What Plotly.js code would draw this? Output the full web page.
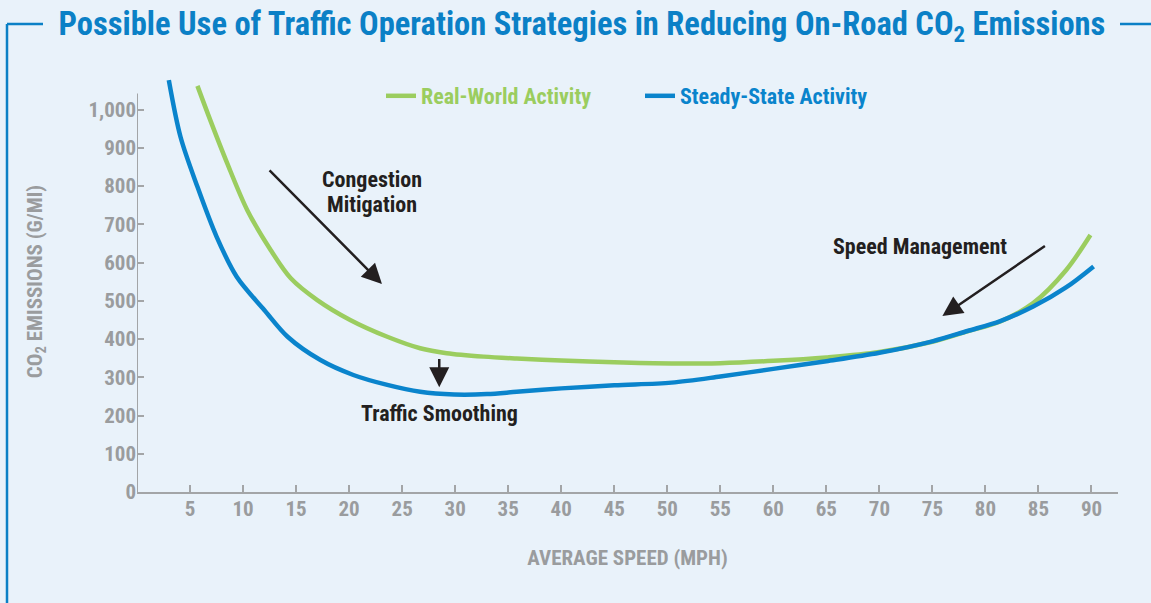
<!DOCTYPE html>
<html>
<head>
<meta charset="utf-8">
<script src="https://cdn.plot.ly/plotly-3.0.1.min.js"></script>
<style>
  html, body { margin: 0; padding: 0; background: #e9f2fa; }
  #chart { width: 1151px; height: 603px; }
</style>
</head>
<body>
<div id="chart"></div>
<script>
// ---- Data ----
const speedReal = [5.7, 6.9, 8.5, 10.4, 12.6, 14.5, 17, 20.1, 23.6, 26.7, 29.2, 32.7, 35.8, 40, 45, 50.4, 55, 60, 65, 70, 75, 78.3, 81.4, 84.5, 87.6, 89.9];
const realWorld = [1062, 973, 860, 737, 633, 559, 502, 450, 406, 376, 363, 354, 349, 344, 339, 336, 337, 343, 352, 366, 393, 420, 446, 494, 580, 672];

const speedSteady = [3, 4.1, 5.7, 7.5, 9.4, 12, 14.2, 17.3, 20.4, 23.6, 26.7, 29.9, 33, 35.8, 40, 45, 50.4, 55, 60, 65, 70, 75, 78.3, 81.4, 84.5, 87.6, 90.2];
const steadyState = [1077, 929, 798, 668, 563, 476, 406, 345, 306, 280, 262, 255, 256, 262, 271, 279, 286, 302, 322, 342, 364, 394, 421, 447, 485, 535, 590];

const seriesNames = ['Real-World Activity', 'Steady-State Activity'];
const xTickVals = [5, 10, 15, 20, 25, 30, 35, 40, 45, 50, 55, 60, 65, 70, 75, 80, 85, 90];
const yTickVals = [0, 100, 200, 300, 400, 500, 600, 700, 800, 900, 1000];
const yTickText = ['0', '100', '200', '300', '400', '500', '600', '700', '800', '900', '1,000'];

const chartTitle = 'Possible Use of Traffic Operation Strategies in Reducing On-Road CO<sub>2</sub> Emissions';
const xTitle = 'AVERAGE SPEED (MPH)';
const yTitle = 'CO<sub>2</sub> EMISSIONS (G/MI)';
const notes = ['Congestion', 'Mitigation', 'Traffic Smoothing', 'Speed Management'];

// ---- Style ----
const FONT = '"Liberation Sans Narrow", "Roboto Condensed", "DejaVu Sans Condensed", sans-serif';
const BG = '#e9f2fa';
const BLUE = '#0a84cc';
const GREEN = '#9bcd5f';
const TITLE_BLUE = '#0b80c6';
const GRAY = '#9a9c9e';
const AXIS_GRAY = '#a3a5a7';
const DARK = '#231f20';

const W = 1151, H = 603;
const M = {l: 137, r: 33, t: 71, b: 111};
const plotW = W - M.l - M.r, plotH = H - M.t - M.b;
const px2x = p => (p - M.l) / plotW;        // page pixel -> paper x
const px2y = p => (H - M.b - p) / plotH;    // page pixel -> paper y

const traces = [
  {
    x: speedReal, y: realWorld, type: 'scatter', mode: 'lines',
    name: '<span style="color:' + GREEN + '">' + seriesNames[0] + '</span>',
    line: {color: GREEN, width: 4.5, shape: 'spline', smoothing: 0.9},
    hoverinfo: 'skip'
  },
  {
    x: speedSteady, y: steadyState, type: 'scatter', mode: 'lines',
    name: '<span style="color:' + BLUE + '">' + seriesNames[1] + '</span>',
    line: {color: BLUE, width: 4.5, shape: 'spline', smoothing: 0.9},
    hoverinfo: 'skip'
  }
];

const frameLine = {color: TITLE_BLUE, width: 2.5};
const tickFont = {family: FONT, size: 21, color: GRAY, weight: 'bold'};
const noteFont = {family: FONT, size: 22, color: DARK, weight: 'bold'};
const arrowStyle = {text: '', showarrow: true, arrowhead: 2, arrowsize: 1.6, arrowwidth: 2.5,
                    arrowcolor: DARK, standoff: 0, axref: 'x', ayref: 'y', xref: 'x', yref: 'y'};

const layout = {
  width: W, height: H,
  margin: M,
  paper_bgcolor: BG, plot_bgcolor: BG,
  font: {family: FONT, color: GRAY, size: 22},
  showlegend: true,
  title: {
    text: chartTitle,
    font: {family: FONT, size: 32.5, color: TITLE_BLUE, weight: 'bold'},
    x: 582 / W, xanchor: 'center', xref: 'container',
    y: 1 - 24 / H, yanchor: 'middle', yref: 'container'
  },
  legend: {
    orientation: 'h',
    x: px2x(381), xanchor: 'left',
    y: px2y(96), yanchor: 'middle',
    bgcolor: 'rgba(0,0,0,0)',
    font: {family: FONT, size: 22, weight: 'bold'},
    entrywidth: 214, entrywidthmode: 'pixels',
    itemclick: false, itemdoubleclick: false
  },
  xaxis: {
    range: [0, 92.5],
    tickvals: xTickVals,
    ticks: 'inside', ticklen: 7, tickwidth: 2, tickcolor: AXIS_GRAY,
    showline: true, linecolor: AXIS_GRAY, linewidth: 2,
    showgrid: false, zeroline: false,
    tickfont: tickFont, ticklabelstandoff: -3,
    title: {text: xTitle, font: {family: FONT, size: 21, color: GRAY, weight: 'bold'}, standoff: 30}
  },
  yaxis: {
    range: [0, plotH / 0.3824],
    tickvals: yTickVals, ticktext: yTickText,
    ticks: 'inside', ticklen: 7, tickwidth: 2, tickcolor: AXIS_GRAY,
    showline: false, showgrid: false, zeroline: false,
    tickfont: tickFont,
    title: {text: yTitle, font: {family: FONT, size: 21, color: GRAY, weight: 'bold'}, standoff: 40}
  },
  shapes: [
    // y axis line (stops a little above 1,000)
    {type: 'line', xref: 'x', yref: 'y', x0: 0, x1: 0, y0: 0, y1: 1042,
     line: {color: AXIS_GRAY, width: 2}},
    // frame around the figure, broken by the title
    {type: 'line', xref: 'paper', yref: 'paper', x0: px2x(7), x1: px2x(7), y0: px2y(24), y1: px2y(610), line: frameLine},
    {type: 'line', xref: 'paper', yref: 'paper', x0: px2x(7), x1: px2x(43), y0: px2y(24), y1: px2y(24), line: frameLine},
    {type: 'line', xref: 'paper', yref: 'paper', x0: px2x(1120), x1: px2x(1160), y0: px2y(24), y1: px2y(24), line: frameLine}
  ],
  annotations: [
    // arrows
    Object.assign({x: 23.1, y: 544, ax: 12.36, ay: 845}, arrowStyle),
    Object.assign({x: 28.5, y: 274, ax: 28.5, ay: 352}, arrowStyle),
    Object.assign({x: 75.94, y: 460, ax: 85.75, ay: 646}, arrowStyle),
    // labels
    {x: 22.17, y: 818, xref: 'x', yref: 'y', text: notes[0], showarrow: false, font: noteFont},
    {x: 22.17, y: 753, xref: 'x', yref: 'y', text: notes[1], showarrow: false, font: noteFont},
    {x: 28.54, y: 204, xref: 'x', yref: 'y', text: notes[2], showarrow: false, font: noteFont},
    {x: 73.87, y: 641, xref: 'x', yref: 'y', text: notes[3], showarrow: false, font: noteFont}
  ]
};

Plotly.newPlot('chart', traces, layout, {displayModeBar: false, staticPlot: true});
</script>
</body>
</html>
